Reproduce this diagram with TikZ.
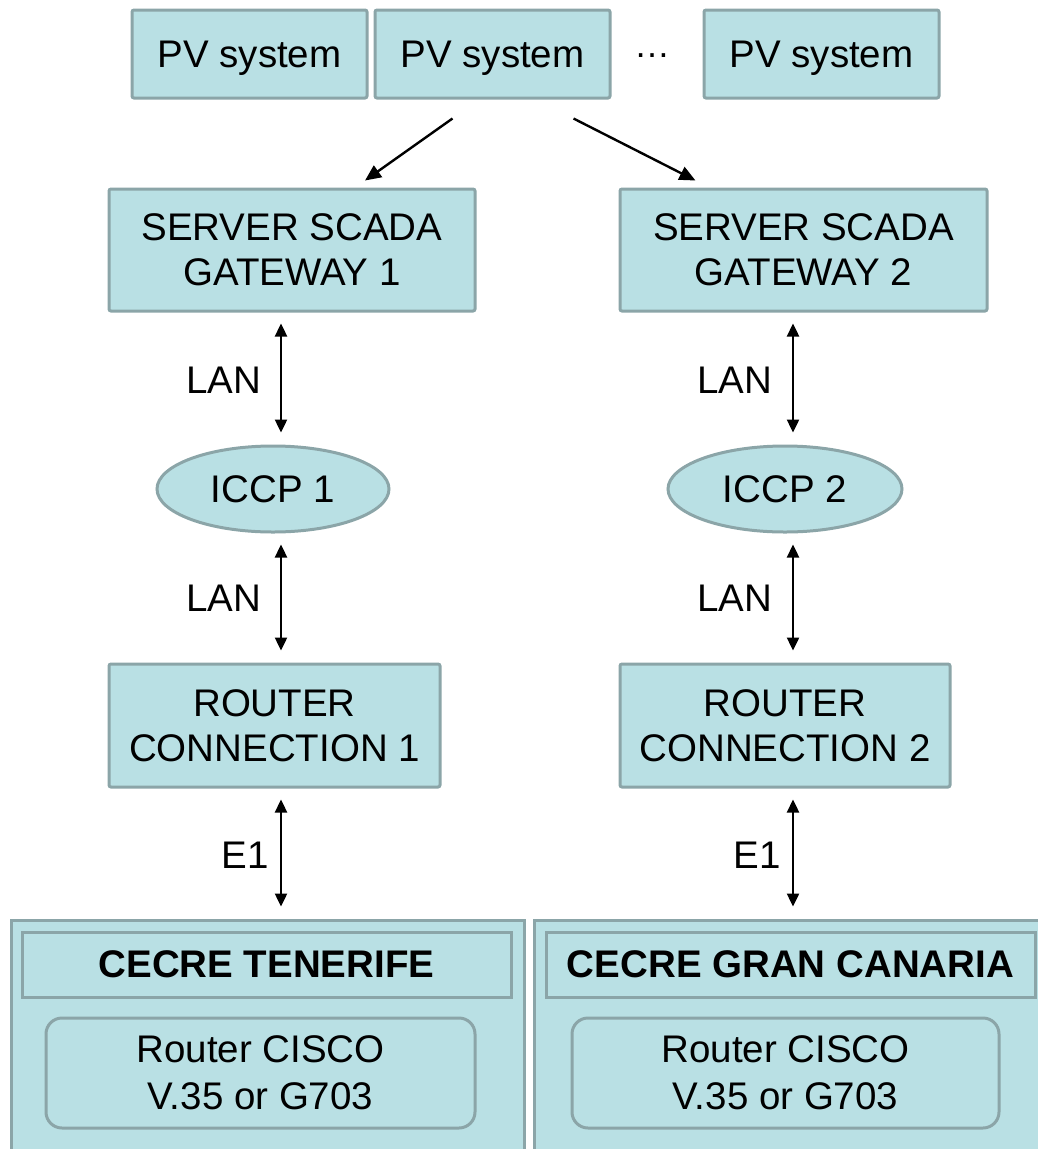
\documentclass[tikz,border=0pt]{standalone}
\usepackage{fontspec}
\setmainfont{Liberation Sans}
\usetikzlibrary{shapes.geometric,arrows.meta,calc}
\definecolor{boxfill}{RGB}{185,224,228}
\definecolor{boxline}{RGB}{139,165,168}
\tikzset{
  box/.style={draw=boxline, fill=boxfill, line width=3pt, rounded corners=2pt,
    inner sep=0pt, align=center, font=\fontsize{38.5}{45}\selectfont},
  oval/.style={ellipse, draw=boxline, fill=boxfill, line width=3pt,
    inner sep=0pt, font=\fontsize{38.5}{45}\selectfont},
  lbl/.style={inner sep=0pt, font=\fontsize{38.5}{45}\selectfont},
  arr/.style={line width=2.4pt, -{Triangle[length=16pt,width=14pt]}},
  biarr/.style={line width=2.4pt, {Triangle[length=13pt,width=12pt]}-{Triangle[length=13pt,width=12pt]}},
}
\begin{document}
\begin{tikzpicture}[x=1pt,y=-1pt]
\useasboundingbox (0,0) rectangle (1038,1149);
\clip (0,0) rectangle (1038,1149);

% PV systems
\node[box, text depth=0pt, minimum width=235pt, minimum height=88pt] (pv1) at (249.5,54) {PV system};
\node[box, text depth=0pt, minimum width=235pt, minimum height=88pt] (pv2) at (492.5,54) {PV system};
\node[lbl, anchor=base, font=\fontsize{36}{40}\selectfont] (dots) at (652,57) {…};
\node[box, text depth=0pt, minimum width=235pt, minimum height=88pt] (pv3) at (821.5,54) {PV system};

% gateways
\node[box, minimum width=366pt, minimum height=122pt] (srv1) at (292,250) {SERVER SCADA\\GATEWAY 1};
\node[box, minimum width=367pt, minimum height=122pt] (srv2) at (803.5,250) {SERVER SCADA\\GATEWAY 2};

% ICCP
\node[oval, minimum width=232pt, minimum height=86pt] (icc1) at (273,489) {ICCP 1};
\node[oval, minimum width=234pt, minimum height=86pt] (icc2) at (785,489) {ICCP 2};

% routers
\node[box, minimum width=331pt, minimum height=123pt] (rt1) at (274.5,725.5) {ROUTER\\CONNECTION 1};
\node[box, minimum width=330pt, minimum height=123pt] (rt2) at (785,725.5) {ROUTER\\CONNECTION 2};

% control centres
\node[box, rounded corners=0pt, minimum width=513pt, minimum height=240pt] (cc1) at (267.5,1040) {};
\node[box, rounded corners=0pt, minimum width=520pt, minimum height=240pt] (cc2) at (794,1040) {};
\node[box, rounded corners=0pt, minimum width=489pt, minimum height=65pt, font=\fontsize{38.5}{45}\selectfont\bfseries] (hd1) at (266.5,964.5) {CECRE TENERIFE};
\node[box, rounded corners=0pt, minimum width=489pt, minimum height=65pt, font=\fontsize{38.5}{45}\selectfont\bfseries] (hd2) at (790.5,964.5) {CECRE GRAN CANARIA};
\node[box, rounded corners=16pt, minimum width=429pt, minimum height=110pt, font=\fontsize{38.5}{47}\selectfont] (cis1) at (260.5,1073) {Router CISCO\\V.35 or G703};
\node[box, rounded corners=16pt, minimum width=427pt, minimum height=110pt, font=\fontsize{38.5}{47}\selectfont] (cis2) at (785.5,1073) {Router CISCO\\V.35 or G703};

% connectors
\draw[arr] ($(pv2.south)+(-40,19)$) -- ($(srv1.north)+(73,-7)$);
\draw[arr] ($(pv2.south)+(81,19)$) -- ($(srv2.north)+(-108,-7)$);

\draw[biarr] ($(srv1.south)+(-11,11)$) -- ($(icc1.north)+(8,-12)$);
\draw[biarr] ($(icc1.south)+(8,11)$) -- ($(rt1.north)+(6.5,-12)$);
\draw[biarr] ($(rt1.south)+(6.5,11)$) -- ($(cc1.north)+(13.5,-12)$);

\draw[biarr] ($(srv2.south)+(-10.5,11)$) -- ($(icc2.north)+(8,-12)$);
\draw[biarr] ($(icc2.south)+(8,11)$) -- ($(rt2.north)+(8,-12)$);
\draw[biarr] ($(rt2.south)+(8,11)$) -- ($(cc2.north)+(-1,-12)$);

% link labels
\node[lbl] (l1) at (224,380) {LAN};
\node[lbl] (l2) at (224,598) {LAN};
\node[lbl] (l3) at (245,855) {E1};
\node[lbl] (l4) at (735,380) {LAN};
\node[lbl] (l5) at (735,598) {LAN};
\node[lbl] (l6) at (757,855) {E1};
\end{tikzpicture}
\end{document}
